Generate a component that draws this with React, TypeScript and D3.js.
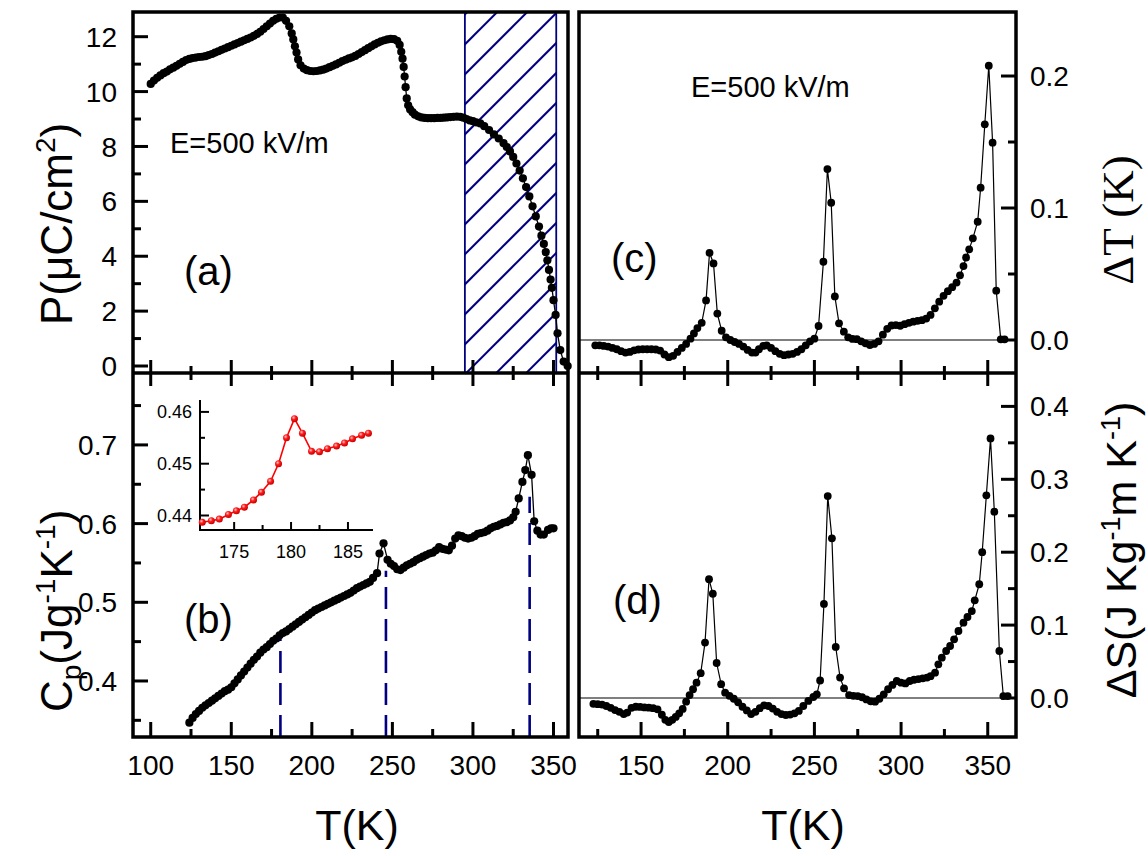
import React, { useEffect, useRef } from 'react';
import * as d3 from 'd3';

// (a) polarization P (uC/cm2) vs T (K)
const tempA = [100, 102, 104, 106, 108, 110, 112, 114, 116, 118, 120, 122, 124, 126, 128, 130, 132, 134, 136, 138,
  140, 142, 144, 146, 148, 150, 152, 154, 156, 158, 160, 162, 164, 166, 168, 170, 172, 174, 176, 178, 180, 182, 184,
  186, 187.5, 188.5, 189.5, 190.5, 191.5, 193, 195, 197, 199, 201, 203, 205, 207, 209, 211, 213, 215, 217, 219, 221,
  223, 225, 227, 229, 231, 233, 235, 237, 239, 241, 243, 245, 247, 249, 251, 253, 254.5, 255.5, 256.3, 257, 257.6,
  258.2, 258.9, 259.8, 261, 262.5, 264, 266, 268, 270, 272, 274, 276, 278, 280, 282, 284, 286, 288, 290, 292, 294,
  296, 298, 300, 302, 304.5, 307, 310, 313, 316, 319, 321, 323, 325, 327, 329, 331, 333, 335, 337, 339, 341, 342.5,
  344, 345.2, 346.2, 347.2, 348.2, 349, 350, 351.3, 352.5, 354.2, 356.3, 358.8];
const polA = [10.28, 10.40, 10.50, 10.59, 10.67, 10.73, 10.81, 10.87, 10.94, 11.01, 11.08, 11.15, 11.19, 11.22, 11.24,
  11.26, 11.27, 11.29, 11.33, 11.37, 11.42, 11.47, 11.52, 11.57, 11.62, 11.67, 11.72, 11.77, 11.82, 11.87, 11.92,
  11.97, 12.03, 12.10, 12.18, 12.28, 12.38, 12.48, 12.58, 12.65, 12.70, 12.70, 12.58, 12.38, 12.12, 11.90, 11.65,
  11.42, 11.17, 10.96, 10.84, 10.78, 10.75, 10.74, 10.75, 10.77, 10.80, 10.84, 10.89, 10.94, 10.99, 11.05, 11.11,
  11.16, 11.21, 11.25, 11.30, 11.37, 11.44, 11.51, 11.58, 11.65, 11.72, 11.78, 11.83, 11.87, 11.90, 11.92, 11.91,
  11.85, 11.70, 11.45, 11.20, 10.90, 10.55, 10.16, 9.75, 9.50, 9.35, 9.25, 9.16, 9.10, 9.06, 9.04, 9.03, 9.03, 9.03,
  9.04, 9.04, 9.05, 9.06, 9.07, 9.08, 9.09, 9.08, 9.05, 9.00, 8.95, 8.92, 8.88, 8.84, 8.74, 8.60, 8.44, 8.29, 8.12,
  7.98, 7.82, 7.62, 7.38, 7.12, 6.84, 6.52, 6.18, 5.82, 5.45, 5.08, 4.75, 4.45, 4.15, 3.85, 3.50, 3.15, 2.85, 2.40,
  1.86, 1.19, 0.58, 0.16, 0.00];

// (b) heat capacity Cp (J g-1 K-1) vs T (K)
const tempB = [124, 126, 128, 130, 132, 134, 136, 138, 140, 142, 144, 146, 148, 150, 152, 154, 156, 158, 160, 162,
  164, 166, 168, 170, 172, 174, 176, 178, 180, 182, 184, 186, 188, 190, 192, 194, 196, 198, 200, 202, 204, 206, 208,
  210, 212, 214, 216, 218, 220, 222, 224, 226, 228, 230, 232, 234, 236, 238, 240.5, 242, 244.5, 247, 249, 251, 253,
  255, 257, 259, 261, 263, 265, 267, 269, 271, 273, 275, 277, 279, 281, 283, 285, 287, 289, 291, 293, 295, 297, 299,
  301, 303, 305, 307, 309, 311, 313, 315, 317, 319, 321, 323, 325, 326.5, 328.4, 330.7, 332.5, 334.1, 336.4, 338,
  340, 342, 344, 346.6, 348.5, 350];
const cpB = [0.347, 0.353, 0.358, 0.362, 0.366, 0.369, 0.372, 0.375, 0.378, 0.381, 0.384, 0.387, 0.389, 0.392, 0.397,
  0.402, 0.407, 0.412, 0.417, 0.422, 0.427, 0.431, 0.436, 0.440, 0.443, 0.447, 0.451, 0.454, 0.458, 0.461, 0.463,
  0.466, 0.469, 0.472, 0.475, 0.478, 0.481, 0.484, 0.487, 0.490, 0.492, 0.494, 0.496, 0.498, 0.500, 0.502, 0.504,
  0.506, 0.508, 0.510, 0.512, 0.515, 0.518, 0.520, 0.522, 0.524, 0.526, 0.531, 0.537, 0.562, 0.575, 0.554, 0.549,
  0.546, 0.542, 0.541, 0.544, 0.547, 0.549, 0.551, 0.554, 0.556, 0.558, 0.560, 0.562, 0.563, 0.566, 0.570, 0.568,
  0.567, 0.566, 0.572, 0.581, 0.585, 0.584, 0.582, 0.581, 0.582, 0.584, 0.587, 0.588, 0.589, 0.591, 0.594, 0.596,
  0.597, 0.599, 0.601, 0.602, 0.604, 0.608, 0.615, 0.632, 0.653, 0.668, 0.687, 0.662, 0.603, 0.591, 0.586, 0.586,
  0.592, 0.594, 0.594];

// inset of (b): Cp around 180 K
const tempInset = [172.2, 173.0, 173.7, 174.5, 175.2, 175.9, 176.7, 177.4, 178.2, 178.9, 179.6, 180.3, 181.0, 181.8,
  182.5, 183.2, 184.0, 184.7, 185.4, 186.2, 186.8];
const cpInset = [0.4387, 0.4390, 0.4393, 0.4402, 0.4409, 0.4416, 0.4430, 0.4445, 0.4466, 0.4500, 0.4550, 0.4587,
  0.4559, 0.4524, 0.4523, 0.4529, 0.4534, 0.4540, 0.4548, 0.4555, 0.4559];

// (c) electrocaloric temperature change dT (K)
const tempC = [123.6, 126, 128.5, 131, 133.5, 136, 138.5, 141, 143.5, 146, 148.5, 151, 153.5, 156, 158.5, 161, 163.5,
  166, 168.5, 171, 173.5, 176, 178.5, 180.5, 182.5, 185, 187.5, 189.5, 191.8, 194, 196.5, 199, 201.5, 204, 206.5,
  209, 211.5, 214, 216, 218, 220.5, 222.5, 225, 227.5, 230, 232.5, 235, 237.5, 240, 242.5, 245, 247.5, 250, 252.4,
  255.2, 257.5, 259.7, 261.8, 264.2, 267, 269.5, 272, 274.5, 277, 279.5, 282, 284.5, 287, 289.5, 292, 294.5, 297,
  299.5, 302, 304.5, 307, 309.5, 312, 314.5, 317, 319.5, 322, 324.5, 327, 329.5, 332, 334, 336, 337.5, 339.3, 341.4,
  344.2, 345.9, 348.3, 350.6, 352.8, 354.9, 357.5, 359.7];
const deltaT = [-0.004, -0.004, -0.0045, -0.005, -0.006, -0.007, -0.0085, -0.0095, -0.009, -0.0078, -0.0072, -0.007,
  -0.007, -0.007, -0.0072, -0.008, -0.011, -0.013, -0.012, -0.009, -0.006, -0.003, 0.001, 0.005, 0.009, 0.013, 0.030,
  0.066, 0.058, 0.020, 0.007, 0.002, 0.000, -0.0015, -0.003, -0.005, -0.0075, -0.0095, -0.0095, -0.007, -0.0045,
  -0.004, -0.006, -0.0085, -0.0105, -0.0115, -0.011, -0.0105, -0.009, -0.007, -0.004, -0.001, 0.001, 0.0106, 0.0593,
  0.1295, 0.104, 0.033, 0.0126, 0.0063, 0.002, 0.0008, 0.0006, -0.001, -0.0025, -0.0038, -0.003, -0.001, 0.004,
  0.0085, 0.011, 0.0113, 0.0108, 0.012, 0.013, 0.0139, 0.0145, 0.015, 0.0162, 0.019, 0.024, 0.029, 0.0335, 0.037,
  0.040, 0.0435, 0.049, 0.056, 0.0625, 0.0687, 0.077, 0.0896, 0.1154, 0.1634, 0.2078, 0.1495, 0.0374, 0.0005,
  0.0005];

// (d) entropy change dS (J Kg-1 m K-1)
const tempD = [122.5, 125, 127.5, 130, 132.5, 135, 137.5, 140, 142, 144.5, 147, 149.5, 152, 154.5, 157, 159.5, 162,
  164, 166, 168, 170, 172, 174, 176, 178, 180, 182, 184.4, 186.9, 189.2, 191.4, 193.6, 196.2, 198.5, 201, 203.5, 206,
  208.5, 211, 213.5, 216, 218.5, 221, 223.5, 226, 228.5, 231, 233.5, 236, 238.5, 241, 243.6, 246.5, 249.4, 251.4,
  253.3, 255.5, 257.7, 260.1, 262.3, 264.8, 267.1, 270, 272.5, 275, 277.5, 280, 282.5, 285, 287.5, 290, 292.5, 295,
  297.5, 300, 302.5, 305, 307.5, 310, 312.5, 315, 317, 319.6, 321.5, 323.5, 326, 328.3, 330.6, 333.1, 336, 338.3,
  340.8, 342.5, 345.1, 346.8, 349.2, 351.6, 353.8, 356.7, 359, 361.5];
const deltaS = [-0.008, -0.0085, -0.009, -0.011, -0.0135, -0.0165, -0.019, -0.022, -0.020, -0.0135, -0.012, -0.0123,
  -0.013, -0.0133, -0.014, -0.0155, -0.023, -0.030, -0.033, -0.030, -0.026, -0.021, -0.015, -0.005, 0.004, 0.012,
  0.021, 0.034, 0.076, 0.163, 0.143, 0.048, 0.019, 0.0073, 0.003, -0.001, -0.006, -0.012, -0.017, -0.022, -0.019,
  -0.014, -0.010, -0.011, -0.0145, -0.019, -0.022, -0.0233, -0.0228, -0.021, -0.0178, -0.011, -0.004, 0.0014, 0.005,
  0.024, 0.129, 0.277, 0.219, 0.070, 0.028, 0.0133, 0.004, 0.003, 0.0027, 0.001, -0.002, -0.0045, -0.005, -0.001,
  0.005, 0.012, 0.018, 0.0233, 0.021, 0.020, 0.0233, 0.025, 0.026, 0.027, 0.028, 0.030, 0.0347, 0.0462, 0.0553,
  0.0645, 0.0713, 0.0805, 0.0919, 0.1033, 0.1111, 0.1193, 0.134, 0.156, 0.200, 0.278, 0.356, 0.2556, 0.0645, 0.0027,
  0.0027];

// marker lines in (b) and shaded window in (a)
const dashT = [180.5, 246, 335.2];
const dashCp = [0.461, 0.54, 0.634];
const hatchRange = [295, 351.7];

const xTicksLeft = [100, 150, 200, 250, 300, 350];
const xTicksRight = [150, 200, 250, 300, 350];
const pTicks = [0, 2, 4, 6, 8, 10, 12];
const cpTicks = [0.4, 0.5, 0.6, 0.7];
const dtTicks = [0.0, 0.1, 0.2];
const dsTicks = [0.0, 0.1, 0.2, 0.3, 0.4];
const insetXTicks = [175, 180, 185];
const insetYTicks = [0.44, 0.45, 0.46];

const SANS = 'Liberation Sans, Arial, sans-serif';
const SERIF = 'Liberation Serif, Times New Roman, serif';

function plotSeries(g, ts, vs, x, y, r, fill, stroke, lw) {
  const pts = ts.map((t, i) => [x(t), y(vs[i])]);
  g.append('path')
    .attr('d', d3.line()(pts))
    .attr('fill', 'none')
    .attr('stroke', stroke)
    .attr('stroke-width', lw);
  g.append('g').selectAll('circle')
    .data(pts)
    .enter().append('circle')
    .attr('cx', d => d[0])
    .attr('cy', d => d[1])
    .attr('r', r)
    .attr('fill', fill);
}

// dir is the direction the tick points (+1 / -1)
function hTicks(g, x, values, yPos, len, dir) {
  values.forEach(v => {
    g.append('line')
      .attr('x1', x(v)).attr('x2', x(v))
      .attr('y1', yPos).attr('y2', yPos + dir * len)
      .attr('stroke', '#000').attr('stroke-width', 3);
  });
}

function vTicks(g, y, values, xPos, len, dir) {
  values.forEach(v => {
    g.append('line')
      .attr('y1', y(v)).attr('y2', y(v))
      .attr('x1', xPos).attr('x2', xPos + dir * len)
      .attr('stroke', '#000').attr('stroke-width', 3);
  });
}

function App() {
  const ref = useRef(null);

  useEffect(() => {
    const svg = d3.select(ref.current);
    svg.selectAll('*').remove();

    const L0 = 133, L1 = 568, R0 = 579, R1 = 1016;
    const yTop = 12, yMid = 373, yBot = 737;

    const xL = d3.scaleLinear().domain([89, 359]).range([L0, L1]);
    const xR = d3.scaleLinear().domain([114.2, 366.3]).range([R0, R1]);
    const yA = d3.scaleLinear().domain([-0.255, 12.9]).range([yMid, yTop]);
    const yB = d3.scaleLinear().domain([0.3288, 0.7914]).range([yBot, yMid]);
    const yC = d3.scaleLinear().domain([-0.025, 0.2485]).range([yMid, yTop]);
    const yD = d3.scaleLinear().domain([-0.0535, 0.4458]).range([yBot, yMid]);
    const xIn = d3.scaleLinear().domain([172, 187.2]).range([200, 373]);
    const yIn = d3.scaleLinear().domain([0.4372, 0.4623]).range([530, 400]);

    const defs = svg.append('defs');
    const grad = defs.append('radialGradient')
      .attr('id', 'redBall').attr('cx', '38%').attr('cy', '35%').attr('r', '65%');
    grad.append('stop').attr('offset', '0%').attr('stop-color', '#ffc8c8');
    grad.append('stop').attr('offset', '45%').attr('stop-color', '#ff1a1a');
    grad.append('stop').attr('offset', '100%').attr('stop-color', '#c80000');

    defs.append('clipPath').attr('id', 'hatchClip')
      .append('rect')
      .attr('x', xL(hatchRange[0])).attr('y', yTop)
      .attr('width', xL(hatchRange[1]) - xL(hatchRange[0]))
      .attr('height', yMid - yTop);

    // hatched window in (a)
    const hx0 = xL(hatchRange[0]), hx1 = xL(hatchRange[1]);
    const hatch = svg.append('g').attr('clip-path', 'url(#hatchClip)');
    d3.range(-5, 13).forEach(k => {
      const c = hx1 + 43 + 30 * k;
      hatch.append('line')
        .attr('x1', hx0 - 20).attr('y1', c - (hx0 - 20))
        .attr('x2', hx1 + 20).attr('y2', c - (hx1 + 20))
        .attr('stroke', '#000080').attr('stroke-width', 2);
    });
    svg.append('rect')
      .attr('x', hx0).attr('y', yTop)
      .attr('width', hx1 - hx0).attr('height', yMid - yTop)
      .attr('fill', 'none').attr('stroke', '#000080').attr('stroke-width', 1.8);

    // dashed markers in (b)
    dashT.forEach((t, i) => {
      svg.append('line')
        .attr('x1', xL(t)).attr('x2', xL(t))
        .attr('y1', yBot).attr('y2', yB(dashCp[i]))
        .attr('stroke', '#000080').attr('stroke-width', 2.6)
        .attr('stroke-dasharray', '22,10');
    });

    // zero lines in (c) and (d)
    svg.append('line').attr('x1', R0).attr('x2', R1).attr('y1', yC(0)).attr('y2', yC(0))
      .attr('stroke', '#000').attr('stroke-width', 1.2);
    svg.append('line').attr('x1', R0).attr('x2', R1).attr('y1', yD(0)).attr('y2', yD(0))
      .attr('stroke', '#000').attr('stroke-width', 1.2);

    // data
    const data = svg.append('g');
    plotSeries(data, tempA, polA, xL, yA, 4.1, '#000', '#000', 1.3);
    plotSeries(data, tempB, cpB, xL, yB, 4.1, '#000', '#000', 1.3);
    plotSeries(data, tempC, deltaT, xR, yC, 3.9, '#000', '#000', 1.2);
    plotSeries(data, tempD, deltaS, xR, yD, 3.9, '#000', '#000', 1.2);

    // frames
    const frames = svg.append('g').attr('fill', 'none').attr('stroke', '#000').attr('stroke-width', 3.5);
    frames.append('rect').attr('x', L0).attr('y', yTop).attr('width', L1 - L0).attr('height', yBot - yTop);
    frames.append('rect').attr('x', R0).attr('y', yTop).attr('width', R1 - R0).attr('height', yBot - yTop);
    frames.append('line').attr('x1', L0).attr('x2', L1).attr('y1', yMid).attr('y2', yMid);
    frames.append('line').attr('x1', R0).attr('x2', R1).attr('y1', yMid).attr('y2', yMid);

    const ticks = svg.append('g');
    const minorX = [125, 175, 225, 275, 325];
    // left panels x ticks
    hTicks(ticks, xL, xTicksLeft, yMid, 13, -1);
    hTicks(ticks, xL, xTicksLeft, yMid, 13, 1);
    hTicks(ticks, xL, minorX, yMid, 7, -1);
    hTicks(ticks, xL, minorX, yMid, 7, 1);
    hTicks(ticks, xL, xTicksLeft, yBot, 15, -1);
    hTicks(ticks, xL, minorX, yBot, 8, -1);
    // right panels x ticks
    hTicks(ticks, xR, xTicksRight, yMid, 13, -1);
    hTicks(ticks, xR, xTicksRight, yMid, 13, 1);
    hTicks(ticks, xR, minorX, yMid, 7, -1);
    hTicks(ticks, xR, minorX, yMid, 7, 1);
    hTicks(ticks, xR, xTicksRight, yBot, 15, -1);
    hTicks(ticks, xR, minorX, yBot, 8, -1);
    // y ticks
    vTicks(ticks, yA, pTicks, L0, 15, 1);
    vTicks(ticks, yA, [1, 3, 5, 7, 9, 11], L0, 8, 1);
    vTicks(ticks, yB, cpTicks, L0, 15, 1);
    vTicks(ticks, yB, [0.35, 0.45, 0.55, 0.65, 0.75], L0, 8, 1);
    vTicks(ticks, yC, dtTicks, R1, 15, -1);
    vTicks(ticks, yC, [0.05, 0.15], R1, 8, -1);
    vTicks(ticks, yD, dsTicks, R1, 15, -1);
    vTicks(ticks, yD, [0.05, 0.15, 0.25, 0.35], R1, 8, -1);

    // tick labels
    const lab = svg.append('g').attr('font-family', SANS).attr('font-size', 28).attr('fill', '#000');
    pTicks.forEach(v => lab.append('text').attr('x', 117).attr('y', yA(v)).attr('dy', '0.36em')
      .attr('text-anchor', 'end').text(v));
    cpTicks.forEach(v => lab.append('text').attr('x', 117).attr('y', yB(v)).attr('dy', '0.36em')
      .attr('text-anchor', 'end').text(d3.format('.1f')(v)));
    dtTicks.forEach(v => lab.append('text').attr('x', 1030).attr('y', yC(v)).attr('dy', '0.36em')
      .text(d3.format('.1f')(v)));
    dsTicks.forEach(v => lab.append('text').attr('x', 1030).attr('y', yD(v)).attr('dy', '0.36em')
      .text(d3.format('.1f')(v)));
    xTicksLeft.forEach(v => lab.append('text').attr('x', xL(v)).attr('y', 775)
      .attr('text-anchor', 'middle').text(v));
    xTicksRight.forEach(v => lab.append('text').attr('x', xR(v)).attr('y', 775)
      .attr('text-anchor', 'middle').text(v));

    // inset
    const inset = svg.append('g');
    inset.append('path')
      .attr('d', `M${xIn(172)},${yIn(0.4623)}V${yIn(0.4372)}H${xIn(187.2)}`)
      .attr('fill', 'none').attr('stroke', '#000').attr('stroke-width', 2);
    insetYTicks.forEach(v => inset.append('line').attr('x1', 200).attr('x2', 209)
      .attr('y1', yIn(v)).attr('y2', yIn(v)).attr('stroke', '#000').attr('stroke-width', 2));
    [0.445, 0.455].forEach(v => inset.append('line').attr('x1', 200).attr('x2', 205)
      .attr('y1', yIn(v)).attr('y2', yIn(v)).attr('stroke', '#000').attr('stroke-width', 2));
    insetXTicks.forEach(v => inset.append('line').attr('x1', xIn(v)).attr('x2', xIn(v))
      .attr('y1', 530).attr('y2', 522).attr('stroke', '#000').attr('stroke-width', 2));
    [177.5, 182.5].forEach(v => inset.append('line').attr('x1', xIn(v)).attr('x2', xIn(v))
      .attr('y1', 530).attr('y2', 525).attr('stroke', '#000').attr('stroke-width', 2));
    insetYTicks.forEach(v => inset.append('text').attr('x', 192).attr('y', yIn(v)).attr('dy', '0.36em')
      .attr('text-anchor', 'end').attr('font-family', SANS).attr('font-size', 18).text(d3.format('.2f')(v)));
    insetXTicks.forEach(v => inset.append('text').attr('x', xIn(v)).attr('y', 558)
      .attr('text-anchor', 'middle').attr('font-family', SANS).attr('font-size', 18).text(v));
    plotSeries(inset, tempInset, cpInset, xIn, yIn, 3.5, 'url(#redBall)', '#ff0000', 1.6);

    // annotations
    const ann = svg.append('g').attr('font-family', SANS).attr('fill', '#000');
    ann.append('text').attr('x', 170).attr('y', 153).attr('font-size', 29).text('E=500 kV/m');
    ann.append('text').attr('x', 691).attr('y', 97).attr('font-size', 29).text('E=500 kV/m');
    ann.append('text').attr('x', 184).attr('y', 285).attr('font-size', 40).text('(a)');
    ann.append('text').attr('x', 184).attr('y', 633).attr('font-size', 40).text('(b)');
    ann.append('text').attr('x', 611).attr('y', 272).attr('font-size', 40).text('(c)');
    ann.append('text').attr('x', 613).attr('y', 614).attr('font-size', 40).text('(d)');

    // axis titles
    ann.append('text').attr('x', 357).attr('y', 840).attr('font-size', 43)
      .attr('text-anchor', 'middle').text('T(K)');
    ann.append('text').attr('x', 803).attr('y', 840).attr('font-size', 43)
      .attr('text-anchor', 'middle').text('T(K)');

    const pLab = ann.append('text').attr('transform', 'translate(72,325) rotate(-90)').attr('font-size', 44);
    pLab.append('tspan').text('P(\u03bcC/cm');
    pLab.append('tspan').attr('font-size', 28).attr('dy', -17).text('2');
    pLab.append('tspan').attr('dy', 17).text(')');

    const cLab = ann.append('text').attr('transform', 'translate(72,712) rotate(-90)').attr('font-size', 44);
    cLab.append('tspan').text('C');
    cLab.append('tspan').attr('font-size', 28).attr('dy', 9).text('p');
    cLab.append('tspan').attr('dy', -9).text('(Jg');
    cLab.append('tspan').attr('font-size', 28).attr('dy', -17).text('-1');
    cLab.append('tspan').attr('dy', 17).text('K');
    cLab.append('tspan').attr('font-size', 28).attr('dy', -17).text('-1');
    cLab.append('tspan').attr('dy', 17).text(')');

    ann.append('text').attr('transform', 'translate(1133,220) rotate(-90)')
      .attr('font-family', SERIF).attr('font-size', 45).attr('text-anchor', 'middle').text('\u0394T (K)');

    const sLab = ann.append('text').attr('transform', 'translate(1136,550) rotate(-90)')
      .attr('font-size', 43).attr('text-anchor', 'middle');
    sLab.append('tspan').text('\u0394S(J Kg');
    sLab.append('tspan').attr('font-size', 27).attr('dy', -16).text('-1');
    sLab.append('tspan').attr('dy', 16).text('m K');
    sLab.append('tspan').attr('font-size', 27).attr('dy', -16).text('-1');
    sLab.append('tspan').attr('dy', 16).text(')');
  }, []);

  return (
    <div style={{ position: 'absolute', left: 0, top: 0 }}>
      <svg ref={ref} width={1148} height={856} style={{ display: 'block', background: '#fff' }} />
    </div>
  );
}

export default App;
